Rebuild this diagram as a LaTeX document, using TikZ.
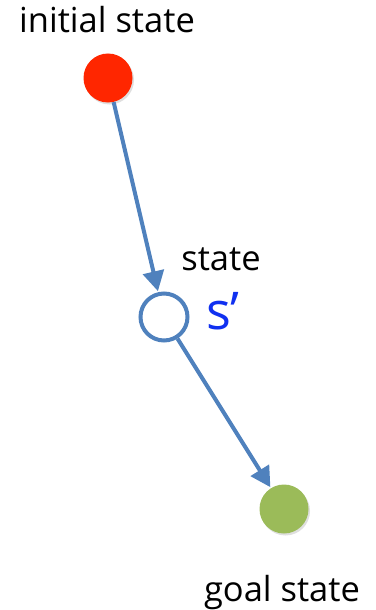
\documentclass[tikz,border=0pt]{standalone}
\usepackage{fontspec}
\setmainfont{Open Sans}
\usetikzlibrary{arrows.meta,shadows}
\definecolor{arrowblue}{HTML}{4F81BD}
\definecolor{startred}{HTML}{FF2600}
\definecolor{goalgreen}{HTML}{9BBB59}
\definecolor{sblue}{HTML}{1030F0}
\tikzset{
  statedot/.style={circle, minimum size=49pt, inner sep=0pt,
    drop shadow={shadow xshift=1.5pt, shadow yshift=-2pt, opacity=0.25}},
  hollow/.style={circle, draw=arrowblue, line width=4pt, minimum size=47pt, inner sep=0pt, fill=white},
  flow/.style={draw=arrowblue, line width=4pt, -{Triangle[length=20pt,width=21pt]}, shorten >=1pt},
  label/.style={font=\fontsize{34.5}{38}\selectfont, inner sep=0pt, text=black}
}
\begin{document}
\begin{tikzpicture}[x=1pt,y=-1pt]
\useasboundingbox (0,0) rectangle (375,610);
\node[statedot, fill=startred] (init) at (108,78) {};
\node[hollow] (mid) at (164,317) {};
\node[statedot, fill=goalgreen] (goal) at (284,509) {};
\node[label] (tinit) at (107,20) {initial state};
\node[label] (tstate) at (221,259) {state};
\node[font=\fontsize{52}{56}\selectfont, text=sblue, inner sep=0pt] (sp) at (223,311) {s’};
\node[label] (tgoal) at (282,593) {goal state};
\draw[flow] (init) -- (mid);
\draw[flow] (mid) -- (goal);
\end{tikzpicture}
\end{document}
